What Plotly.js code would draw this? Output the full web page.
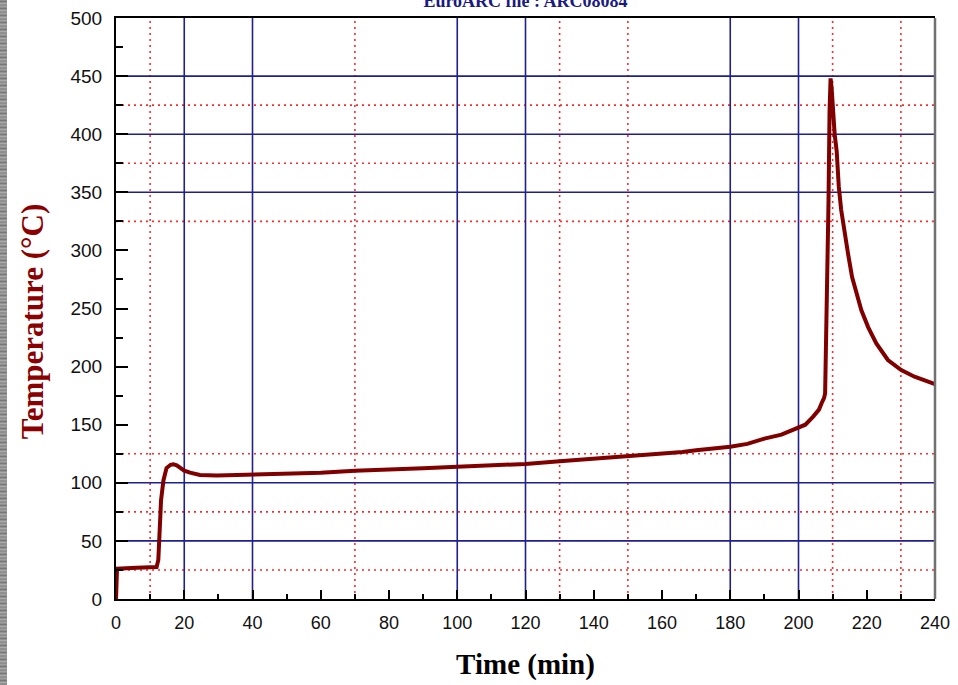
<!DOCTYPE html>
<html>
<head>
<meta charset="utf-8">
<script src="https://cdn.plot.ly/plotly-3.0.1.min.js"></script>
<style>
  html, body { margin: 0; padding: 0; background: #ffffff; }
  #chart { width: 958px; height: 685px; position: relative; }
  #strip { position: absolute; left: 0; top: 0; width: 7px; height: 685px; z-index: 5;
    background: repeating-linear-gradient(180deg, #9a9a9a 0px, #6e6e6e 2px, #b5b5b5 3px, #858585 5px, #a8a8a8 7px); }
</style>
</head>
<body>
<div id="strip"></div>
<div id="chart"></div>
<script>
// Time (min)
const timeMin = [0, 0.3, 6, 11.9, 12.4, 12.7, 13.2, 13.9, 14.8, 16, 16.8, 17.8, 18.8, 20, 21.7, 24.6, 29.5, 35, 40, 50, 60, 70, 80, 90, 100, 110, 120, 130, 140, 150, 160, 166, 170, 175, 180, 185, 190, 195, 200, 202, 204.3, 206, 206.8, 207.5, 207.8, 208.0, 208.4, 208.8, 209.1, 209.4, 209.7, 210.1, 210.6, 211.2, 211.8, 212.5, 213.5, 214.5, 215.7, 216.9, 218.4, 220.4, 222.8, 226.2, 230.1, 234, 237.9, 240];
// Temperature (°C)
const tempC = [0, 26, 27, 27.5, 33.6, 59, 85, 102, 112.7, 115.5, 116, 115, 112.7, 110.5, 108.7, 106.7, 106.2, 106.5, 107, 107.8, 108.7, 110.3, 111.2, 112.5, 113.9, 115, 116.2, 118.5, 120.5, 122.5, 124.5, 126.5, 128, 129.5, 131, 133.5, 138, 141.5, 147, 150, 157, 163, 168.7, 173, 177, 206, 260, 343, 420, 448, 440, 418, 400, 385, 355, 335, 314.7, 297.5, 277, 263, 248.7, 234, 220, 205.7, 197, 191.3, 187, 185];

const xTickVals = [0, 20, 40, 60, 80, 100, 120, 140, 160, 180, 200, 220, 240];
const xTickText = ["0", "20", "40", "60", "80", "100", "120", "140", "160", "180", "200", "220", "240"];
const yTickVals = [0, 50, 100, 150, 200, 250, 300, 350, 400, 450, 500];
const yTickText = ["0", "50", "100", "150", "200", "250", "300", "350", "400", "450", "500"];

// grid lines present in the original
const xMajorGrid = [20, 40, 100, 120, 180, 200];
const xMinorGrid = [10, 70, 130, 150, 210, 230];
const yMajorGrid = [50, 100, 350, 400, 450];
const yMinorGrid = [25, 75, 125, 325, 375, 425];

const blue = '#1f1f8f';
const red = '#ff2a2a';
const dotted = {color: red, width: 1.6, dash: '2px,4px'};
const shapes = [];
xMinorGrid.forEach(v => shapes.push({type: 'line', layer: 'below', xref: 'x', yref: 'paper', x0: v, x1: v, y0: 0, y1: 1, line: dotted}));
yMinorGrid.forEach(v => shapes.push({type: 'line', layer: 'below', xref: 'paper', yref: 'y', x0: 0, x1: 1, y0: v, y1: v, line: dotted}));
xMajorGrid.forEach(v => shapes.push({type: 'line', layer: 'below', xref: 'x', yref: 'paper', x0: v, x1: v, y0: 0, y1: 1, line: {color: blue, width: 1.6}}));
yMajorGrid.forEach(v => shapes.push({type: 'line', layer: 'below', xref: 'paper', yref: 'y', x0: 0, x1: 1, y0: v, y1: v, line: {color: blue, width: 1.6}}));
shapes.push({type: 'line', xref: 'paper', yref: 'paper', x0: 1, x1: 1, y0: 0, y1: 1, line: {color: '#707070', width: 2.5}});

const trace = {
  x: timeMin, y: tempC, type: 'scatter', mode: 'lines',
  line: {color: '#800000', width: 4}, hoverinfo: 'skip'
};

const layout = {
  width: 958, height: 685,
  margin: {l: 116, r: 23, t: 18, b: 86},
  paper_bgcolor: '#ffffff', plot_bgcolor: '#ffffff',
  showlegend: false,
  title: {
    text: 'EuroARC file : ARC08084',
    font: {family: 'Liberation Serif, Times New Roman, serif', size: 18, color: '#1a1a80', weight: 'bold'},
    xref: 'paper', x: 0.5, xanchor: 'center',
    yref: 'container', y: 0.9985, yanchor: 'middle'
  },
  xaxis: {
    range: [0, 240], tickvals: xTickVals, ticktext: xTickText,
    ticks: 'inside', ticklen: 9, tickwidth: 2, tickcolor: '#000',
    minor: {dtick: 10, ticks: 'inside', ticklen: 5, tickwidth: 2, tickcolor: '#000', showgrid: false},
    showgrid: false, zeroline: false,
    showline: true, linecolor: '#000', linewidth: 2, mirror: true,
    tickfont: {family: 'Liberation Sans, Arial, sans-serif', size: 18, color: '#111'},
    ticklabelstandoff: 6,
    title: {text: '<b>Time (min)</b>', standoff: 22,
      font: {family: 'Liberation Serif, Times New Roman, serif', size: 29, color: '#000'}},
    fixedrange: true
  },
  yaxis: {
    range: [0, 500], tickvals: yTickVals, ticktext: yTickText,
    ticks: 'inside', ticklen: 12, tickwidth: 2, tickcolor: '#000',
    minor: {dtick: 25, ticks: 'inside', ticklen: 7, tickwidth: 2, tickcolor: '#000', showgrid: false},
    showgrid: false, zeroline: false,
    showline: true, linecolor: '#000', linewidth: 2,
    tickfont: {family: 'Liberation Sans, Arial, sans-serif', size: 19, color: '#111'},
    ticklabelstandoff: 8,
    fixedrange: true
  },
  annotations: [{
    text: '<b>Temperature (°C)</b>', textangle: -90, showarrow: false,
    xref: 'paper', yref: 'paper', x: -0.101, y: 0.477, xanchor: 'center', yanchor: 'middle',
    font: {family: 'Liberation Serif, Times New Roman, serif', size: 31, color: '#8b0000'}
  }],
  shapes: shapes
};

Plotly.newPlot('chart', [trace], layout, {displayModeBar: false, staticPlot: true});
</script>
</body>
</html>
